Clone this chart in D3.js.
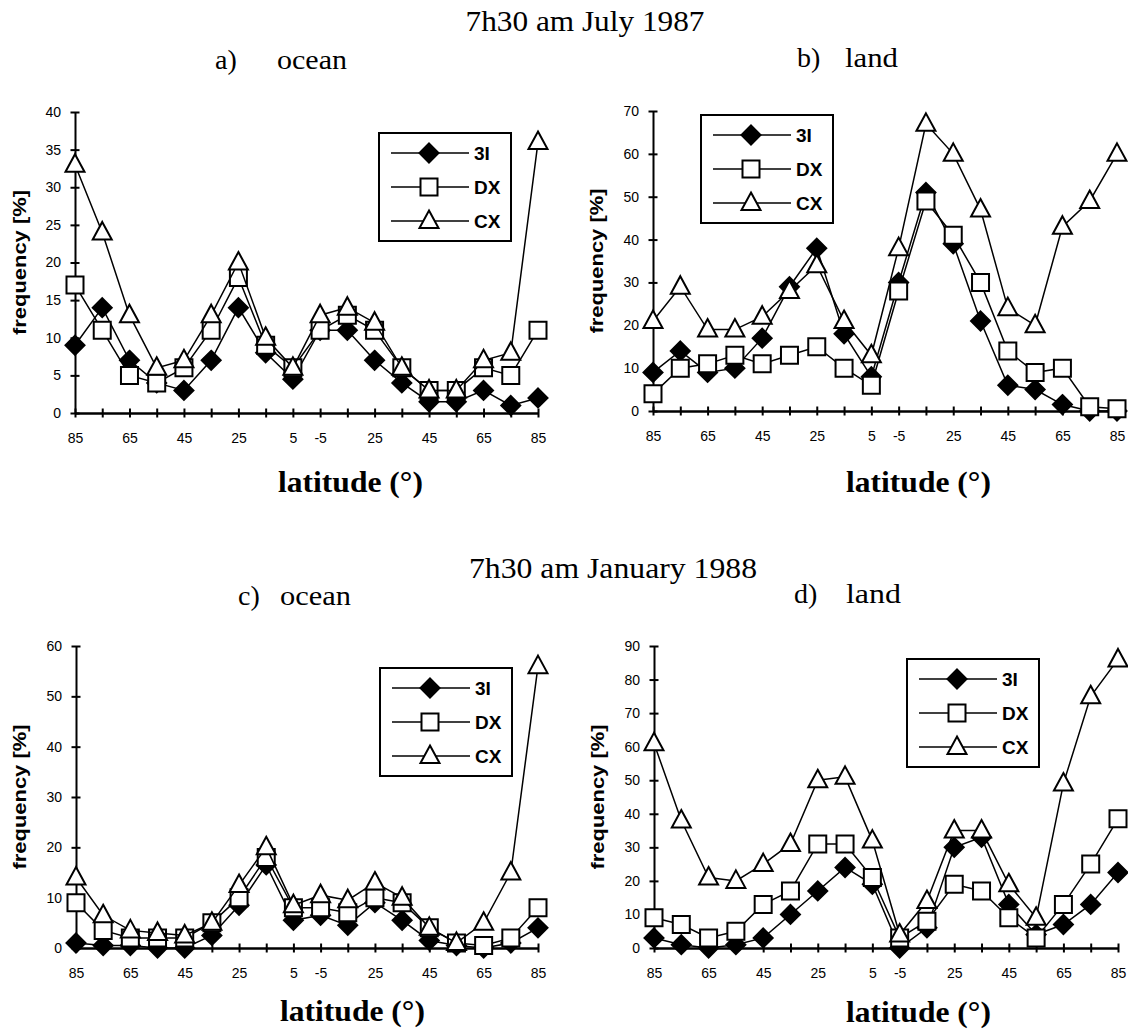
<!DOCTYPE html>
<html>
<head>
<meta charset="utf-8">
<script src="https://cdnjs.cloudflare.com/ajax/libs/d3/7.8.5/d3.min.js"></script>
<style>
body { margin:0; background:#fff; }
svg { display:block; }
</style>
</head>
<body>
<div id="chart"></div>
<script>
// latitude bins, north pole -> south pole
var lat_values = [85,75,65,55,45,35,25,15,5,-5,-15,-25,-35,-45,-55,-65,-75,-85];
var lat_labels = ["85","","65","","45","","25","","5","-5","","25","","45","","65","","85"];
var series_names = ["3I","DX","CX"];

// a) July 1987, ocean
var jul_ocean_3I = [9,14,7,4,3,7,14,8,4.5,11,11,7,4,1.5,1.5,3,1,2];
var jul_ocean_DX = [17,11,5,4,6,11,18,9,6,11,13,11,6,3,3,6,5,11];
var jul_ocean_CX = [33,24,13,6,7,13,20,10,6,13,14,12,6,3,3,7,8,36];
// b) July 1987, land
var jul_land_3I = [9,14,9,10,17,29,38,18,8,30,51,39,21,6,5,1.5,0,0];
var jul_land_DX = [4,10,11,13,11,13,15,10,6,28,49,41,30,14,9,10,1,0.5];
var jul_land_CX = [21,29,19,19,22,28,34,21,13,38,67,60,47,24,20,43,49,60];
// c) January 1988, ocean
var jan_ocean_3I = [1,0.5,0.5,0,0,2.5,8.5,16.5,5.5,6.5,4.5,9,5.5,1.5,0.5,0,1,4];
var jan_ocean_DX = [9,3.5,2,2,2,5,10,18,8,8,7,10,9,4,1,0.5,2,8];
var jan_ocean_CX = [14,6.5,3.5,3,2.5,5,12.5,20,8.5,10.5,9.5,13,10,4,1,5,15,56];
// d) January 1988, land
var jan_land_3I = [3,1,0,1,3,10,17,24,19,0,6,30,33,13,4,7,13,22.5];
var jan_land_DX = [9,7,3,5,13,17,31,31,21,3,8,19,17,9,3,13,25,38.5];
var jan_land_CX = [61,38,21,20,25,31,50,51,32,4,14,35,35,19,9,49,75,86];

var serif = "'Liberation Serif','Times New Roman',serif";
var sans = "'Liberation Sans',Arial,Helvetica,sans-serif";

var svg = d3.select("#chart").append("svg")
    .attr("width", 1128)
    .attr("height", 1036);

// marker shapes
var marker_path = {
  "3I": "M0,-9.5L9.5,0L0,9.5L-9.5,0Z",
  "DX": "M-8.5,-8.5L8.5,-8.5L8.5,8.5L-8.5,8.5Z",
  "CX": "M0,-10.5L9.5,7L-9.5,7Z"
};
var marker_fill = {"3I": "#000", "DX": "#fff", "CX": "#fff"};

function add_marker(g, name, cx, cy) {
  g.append("path")
    .attr("d", marker_path[name])
    .attr("transform", "translate(" + cx + "," + cy + ")")
    .attr("fill", marker_fill[name])
    .attr("stroke", "#000")
    .attr("stroke-width", 2)
    .attr("stroke-linejoin", "miter");
}

// titles
svg.append("text").attr("x", 585).attr("y", 31)
  .attr("text-anchor", "middle")
  .attr("textLength", 239).attr("lengthAdjust", "spacingAndGlyphs")
  .style("font-family", serif).style("font-size", "29px")
  .text("7h30 am July 1987");
svg.append("text").attr("x", 613).attr("y", 578)
  .attr("text-anchor", "middle")
  .attr("textLength", 288).attr("lengthAdjust", "spacingAndGlyphs")
  .style("font-family", serif).style("font-size", "29px")
  .text("7h30 am January 1988");

var panels = [
  {letter:"a)", letter_x:215, word:"ocean", word_x:277, word_len:70, sub_y:69,
   x0:75, x1:538, y0:413, ytop:112, ymax:40, step:5, freq_x:20, lat_x:278, lat_y:492,
   legend:[379,133], data:[jul_ocean_3I, jul_ocean_DX, jul_ocean_CX]},
  {letter:"b)", letter_x:797, word:"land", word_x:845, word_len:53, sub_y:67,
   x0:653, x1:1117, y0:411, ytop:111, ymax:70, step:10, freq_x:597, lat_x:846, lat_y:492,
   legend:[701,115], data:[jul_land_3I, jul_land_DX, jul_land_CX]},
  {letter:"c)", letter_x:238, word:"ocean", word_x:280, word_len:71, sub_y:605,
   x0:76, x1:538, y0:948, ytop:646, ymax:60, step:10, freq_x:20, lat_x:280, lat_y:1021,
   legend:[380,668], data:[jan_ocean_3I, jan_ocean_DX, jan_ocean_CX]},
  {letter:"d)", letter_x:794, word:"land", word_x:846, word_len:55, sub_y:603,
   x0:654, x1:1118, y0:948, ytop:646, ymax:90, step:10, freq_x:598, lat_x:846, lat_y:1022,
   legend:[907,659], data:[jan_land_3I, jan_land_DX, jan_land_CX]}
];

panels.forEach(function(p) { plot_panel(p); });

function plot_panel(p) {
  var x = d3.scaleLinear().domain([0, lat_values.length - 1]).range([p.x0, p.x1]);
  var y = d3.scaleLinear().domain([0, p.ymax]).range([p.y0, p.ytop]);

  // panel sub-title
  svg.append("text").attr("x", p.letter_x).attr("y", p.sub_y)
    .style("font-family", serif).style("font-size", "28px").text(p.letter);
  svg.append("text").attr("x", p.word_x).attr("y", p.sub_y)
    .attr("textLength", p.word_len).attr("lengthAdjust", "spacingAndGlyphs")
    .style("font-family", serif).style("font-size", "28px").text(p.word);

  // x axis
  var xAxis = d3.axisBottom(x)
    .tickValues(d3.range(lat_values.length))
    .tickFormat(function(i) { return lat_labels[i]; })
    .tickSizeOuter(0);
  var gx = svg.append("g")
    .attr("transform", "translate(0," + p.y0 + ")")
    .call(xAxis);
  gx.select(".domain").attr("stroke", "#000").attr("stroke-width", 2.5);
  gx.selectAll(".tick line").attr("y1", -4.5).attr("y2", 4.5)
    .attr("stroke", "#000").attr("stroke-width", 2);
  gx.selectAll(".tick text").attr("y", 20)
    .style("font-family", sans).style("font-size", "14px").attr("fill", "#000");

  // y axis
  var yAxis = d3.axisLeft(y)
    .tickValues(d3.range(0, p.ymax + 1, p.step))
    .tickSizeOuter(0);
  var gy = svg.append("g")
    .attr("transform", "translate(" + p.x0 + ",0)")
    .call(yAxis);
  gy.select(".domain").attr("stroke", "#000").attr("stroke-width", 2);
  gy.selectAll(".tick line").attr("x1", -4.5).attr("x2", 4.5)
    .attr("stroke", "#000").attr("stroke-width", 2);
  gy.selectAll(".tick text").attr("x", -14)
    .style("font-family", sans).style("font-size", "14px").attr("fill", "#000");

  // axis titles
  svg.append("text")
    .attr("transform", "translate(" + p.freq_x + "," + ((p.y0 + p.ytop) / 2) + ") rotate(-90)")
    .attr("text-anchor", "middle").attr("dy", "0.35em")
    .attr("textLength", 145).attr("lengthAdjust", "spacingAndGlyphs")
    .style("font-family", sans).style("font-size", "18px").style("font-weight", "bold")
    .text("frequency [%]");
  svg.append("text").attr("x", p.lat_x).attr("y", p.lat_y)
    .attr("textLength", 145).attr("lengthAdjust", "spacingAndGlyphs")
    .style("font-family", serif).style("font-size", "30px").style("font-weight", "bold")
    .text("latitude (\u00b0)");

  // series lines and markers
  var line = d3.line()
    .x(function(d, i) { return x(i); })
    .y(function(d) { return y(d); });
  var g = svg.append("g");
  p.data.forEach(function(vals, k) {
    var name = series_names[k];
    g.append("path").datum(vals)
      .attr("d", line)
      .attr("fill", "none")
      .attr("stroke", "#000")
      .attr("stroke-width", 1.5);
    vals.forEach(function(v, i) { add_marker(g, name, x(i), y(v)); });
  });

  // legend
  var lg = svg.append("g").attr("transform", "translate(" + p.legend[0] + "," + p.legend[1] + ")");
  lg.append("rect").attr("width", 132).attr("height", 108)
    .attr("fill", "#fff").attr("stroke", "#000").attr("stroke-width", 2);
  series_names.forEach(function(name, k) {
    var ly = 20 + k * 34;
    lg.append("line").attr("x1", 12).attr("x2", 90).attr("y1", ly).attr("y2", ly)
      .attr("stroke", "#000").attr("stroke-width", 1.5);
    add_marker(lg, name, 50, ly);
    lg.append("text").attr("x", 95).attr("y", ly).attr("dy", "0.36em")
      .style("font-family", sans).style("font-size", "19px").style("font-weight", "bold")
      .text(name);
  });
}
</script>
</body>
</html>
